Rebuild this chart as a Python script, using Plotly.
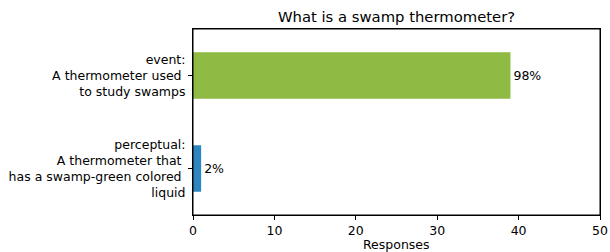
import plotly.graph_objects as go

categories = [
    "perceptual:<br>A thermometer that\u00a0<br>has a swamp-green colored\u00a0<br>liquid",
    "event:<br>A thermometer used\u00a0<br>to study swamps",
]
values = [1, 39]
labels = ["2%", "98%"]
colors = ["#2e86c1", "#8fba44"]
x_ticks = [0, 10, 20, 30, 40, 50]

FONT = "DejaVu Sans"
FS = 12.5
PLOT_H = 252 - 29 - 37

fig = go.Figure(
    go.Bar(
        y=categories,
        x=values,
        orientation="h",
        marker=dict(color=colors, line=dict(width=0)),
        width=0.5,
        text=labels,
        textposition="outside",
        textfont=dict(family=FONT, size=FS, color="black"),
        cliponaxis=False,
    )
)

fig.update_layout(
    width=610,
    height=252,
    margin=dict(l=193, r=10, t=29, b=37, autoexpand=False),
    paper_bgcolor="white",
    plot_bgcolor="white",
    showlegend=False,
    font=dict(family=FONT, size=FS, color="black"),
    title=dict(
        text="What is a swamp thermometer?",
        font=dict(family=FONT, size=14.8, color="black"),
        x=0.5,
        xanchor="center",
        xref="paper",
        y=1 - 17 / 252,
        yref="container",
        yanchor="middle",
        automargin=False,
    ),
    annotations=[
        dict(
            text="Responses",
            xref="paper",
            yref="paper",
            x=0.5,
            y=-29 / PLOT_H,
            xanchor="center",
            yanchor="middle",
            showarrow=False,
            font=dict(family=FONT, size=FS, color="black"),
        )
    ],
    shapes=[
        dict(
            type="rect",
            xref="paper",
            yref="paper",
            x0=0,
            x1=1,
            y0=0,
            y1=1,
            line=dict(color="black", width=1),
            fillcolor="rgba(0,0,0,0)",
            layer="above",
        )
    ],
)

fig.update_xaxes(
    range=[0, 50],
    tickvals=x_ticks,
    ticks="outside",
    ticklen=4,
    tickcolor="black",
    showgrid=False,
    zeroline=False,
    showline=True,
    linecolor="black",
    linewidth=1,
    mirror=True,
    automargin=False,
    tickfont=dict(family=FONT, size=FS, color="black"),
)
fig.update_yaxes(
    range=[-0.5, 1.5],
    ticks="outside",
    ticklen=4,
    tickcolor="black",
    showgrid=False,
    zeroline=False,
    showline=True,
    linecolor="black",
    linewidth=1,
    mirror=True,
    automargin=False,
    tickfont=dict(family=FONT, size=FS, color="black"),
)

fig.write_html(
    "out.html",
    config={"displayModeBar": False},
    post_script="document.body.style.margin='0';document.body.style.overflow='hidden';",
)
